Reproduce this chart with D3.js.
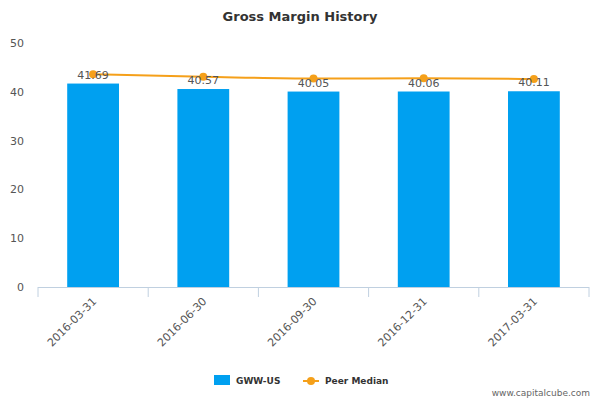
<!DOCTYPE html>
<html><head><meta charset="utf-8">
<script src="https://cdn.jsdelivr.net/npm/d3@7"></script>
<style>body{margin:0;background:#fff;font-family:"DejaVu Sans",sans-serif;}</style>
</head><body>
<svg id="chart" width="600" height="400"></svg>
<script>
const categories = ["2016-03-31", "2016-06-30", "2016-09-30", "2016-12-31", "2017-03-31"];
const company = [41.69, 40.57, 40.05, 40.06, 40.11];
const peer = [43.6, 43.1, 42.7, 42.8, 42.6];
const yTicks = [0, 10, 20, 30, 40, 50];

const svg = d3.select("#chart");
const x = d3.scaleBand().domain(categories).range([38, 589]).paddingInner(0.53).paddingOuter(0.265);
const y = d3.scaleLinear().domain([0, 50]).range([287, 43]);

svg.append("text").attr("x", 300).attr("y", 21).attr("text-anchor", "middle")
    .attr("font-size", 13).attr("font-weight", "bold").attr("fill", "#333").text("Gross Margin History");

// y labels
svg.append("g").selectAll("text").data(yTicks).enter().append("text")
    .attr("x", 24).attr("y", d => y(d) + 4).attr("text-anchor", "end")
    .attr("font-size", 11).attr("fill", "#555").text(d => d);

// bars
svg.append("g").selectAll("rect").data(company).enter().append("rect")
    .attr("x", (d, i) => x(categories[i])).attr("width", x.bandwidth())
    .attr("y", d => y(d)).attr("height", d => y(0) - y(d)).attr("fill", "#00a0f0");

// x axis
svg.append("line").attr("x1", 38).attr("x2", 589).attr("y1", 287.5).attr("y2", 287.5).attr("stroke", "#c0d0e0");
const step = x.step();
const edges = [0, 1, 2, 3, 4, 5].map(i => 38 + i * step);
svg.append("g").selectAll("line").data(edges).enter().append("line")
    .attr("x1", d => d).attr("x2", d => d).attr("y1", 287).attr("y2", 297).attr("stroke", "#c0d0e0");
svg.append("g").selectAll("text").data(categories).enter().append("text")
    .attr("transform", d => `translate(${x(d) + x.bandwidth() / 2 + 4},${302}) rotate(-45)`)
    .attr("text-anchor", "end").attr("font-size", 11).attr("fill", "#555").text(d => d);

// peer line
const cx = (d, i) => x(categories[i]) + x.bandwidth() / 2;
svg.append("path").datum(peer)
    .attr("d", d3.line().x(cx).y(d => y(d)).curve(d3.curveMonotoneX))
    .attr("fill", "none").attr("stroke", "#f5a01a").attr("stroke-width", 2);
svg.append("g").selectAll("circle").data(peer).enter().append("circle")
    .attr("cx", cx).attr("cy", d => y(d)).attr("r", 4).attr("fill", "#f5a01a");

// value labels
svg.append("g").selectAll("text").data(company).enter().append("text")
    .attr("x", cx).attr("y", d => y(d) - 5).attr("text-anchor", "middle")
    .attr("font-size", 11).attr("fill", "#555").text(d => d.toFixed(2));

// legend
svg.append("rect").attr("x", 214).attr("y", 375).attr("width", 16).attr("height", 10).attr("fill", "#00a0f0");
svg.append("text").attr("x", 236).attr("y", 384).attr("font-size", 9).attr("font-weight", "bold").attr("fill", "#333").text("GWW-US");
svg.append("line").attr("x1", 303).attr("x2", 319).attr("y1", 381).attr("y2", 381).attr("stroke", "#f5a01a").attr("stroke-width", 2);
svg.append("circle").attr("cx", 311).attr("cy", 381).attr("r", 4).attr("fill", "#f5a01a");
svg.append("text").attr("x", 325).attr("y", 384).attr("font-size", 9).attr("font-weight", "bold").attr("fill", "#333").text("Peer Median");

svg.append("text").attr("x", 590).attr("y", 396).attr("text-anchor", "end").attr("font-size", 9).attr("fill", "#666").text("www.capitalcube.com");
</script>
</body></html>
